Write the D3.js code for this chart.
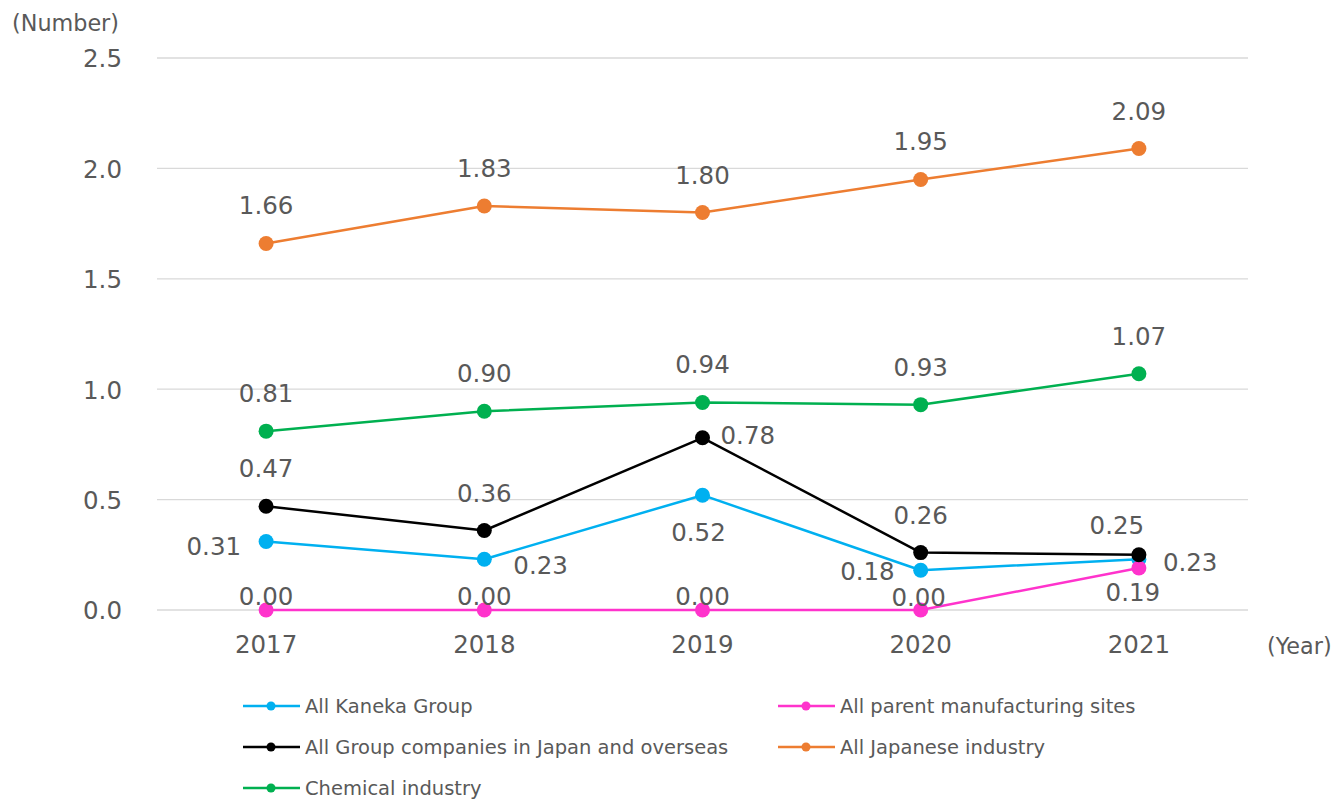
<!DOCTYPE html>
<html>
<head>
<meta charset="utf-8">
<script src="https://cdn.jsdelivr.net/npm/d3@7"></script>
<style>
  html, body { margin: 0; padding: 0; background: #fff; }
  svg { display: block; font-family: "DejaVu Sans", Verdana, sans-serif; }
</style>
</head>
<body>
<svg id="chart" width="1340" height="799"></svg>
<script>
// Lost-time injury frequency rate, 2017–2021
const years = ["2017", "2018", "2019", "2020", "2021"];
const yTicks = [0, 0.5, 1.0, 1.5, 2.0, 2.5];

const kanekaGroup    = [0.31, 0.23, 0.52, 0.18, 0.23];
const parentSites    = [0.00, 0.00, 0.00, 0.00, 0.19];
const groupCompanies = [0.47, 0.36, 0.78, 0.26, 0.25];
const japanIndustry  = [1.66, 1.83, 1.80, 1.95, 2.09];
const chemIndustry   = [0.81, 0.90, 0.94, 0.93, 1.07];

const seriesNames = [
  "All Kaneka Group",
  "All parent manufacturing sites",
  "All Group companies in Japan and overseas",
  "All Japanese industry",
  "Chemical industry"
];
const seriesColors = ["#00b0f0", "#ff33cc", "#000000", "#ed7d31", "#00b050"];

// label placement per point: [dx, dy (baseline), anchor]
const A = [0, -29, "middle"];
const labelPos = [
  [[-25, 13, "end"], [29, 15, "start"], [-4, 46, "middle"], [-26, 10, "end"], [24, 12, "start"]],
  [[0, -5, "middle"], [0, -5, "middle"], [0, -5, "middle"], [-2, -4, "middle"], [-6, 33, "middle"]],
  [A, A, [18, 6, "start"], A, [-22, -21, "middle"]],
  [A, A, A, A, A],
  [A, A, A, A, A]
];

const series = [kanekaGroup, parentSites, groupCompanies, japanIndustry, chemIndustry]
  .map((values, i) => ({ name: seriesNames[i], color: seriesColors[i], values, pos: labelPos[i] }));

const svg = d3.select("#chart");
const plot = { left: 157, right: 1248, top: 58, bottom: 610 };

const x = d3.scaleBand().domain(years).range([plot.left, plot.right]);
const y = d3.scaleLinear().domain([0, 2.5]).range([plot.bottom, plot.top]);
const cx = d => x(d) + x.bandwidth() / 2;

const textColor = "#595959";
const labelSize = 24.5;

// gridlines
svg.append("g")
  .selectAll("line")
  .data(yTicks)
  .join("line")
  .attr("x1", plot.left).attr("x2", plot.right)
  .attr("y1", d => y(d)).attr("y2", d => y(d))
  .attr("stroke", "#d9d9d9").attr("stroke-width", 1.3);

// y axis labels
const yAxis = d3.axisLeft(y).tickValues(yTicks).tickFormat(d3.format(".1f")).tickSize(0).tickPadding(0);
svg.append("g")
  .attr("transform", `translate(122,0)`)
  .call(yAxis)
  .call(g => g.select(".domain").remove())
  .call(g => g.selectAll("text").attr("fill", textColor).attr("font-size", labelSize)
    .attr("font-family", "DejaVu Sans").attr("dy", "0.36em"));

// x axis labels
const xAxis = d3.axisBottom(x).tickSize(0).tickPadding(0);
svg.append("g")
  .attr("transform", `translate(0,636)`)
  .call(xAxis)
  .call(g => g.select(".domain").remove())
  .call(g => g.selectAll("text").attr("fill", textColor).attr("font-size", labelSize)
    .attr("font-family", "DejaVu Sans"));

svg.append("text").attr("x", 12).attr("y", 31).attr("fill", textColor)
  .attr("font-size", 22.3).text("(Number)");
svg.append("text").attr("x", 1267).attr("y", 654).attr("fill", textColor)
  .attr("font-size", 22.3).text("(Year)");

// lines and markers
const line = d3.line().x((d, i) => cx(years[i])).y(d => y(d));

const sg = svg.append("g").selectAll("g").data(series).join("g");
sg.append("path")
  .attr("d", d => line(d.values))
  .attr("fill", "none")
  .attr("stroke", d => d.color)
  .attr("stroke-width", 2.5)
  .attr("stroke-linejoin", "round");
sg.selectAll("circle")
  .data(d => d.values.map((v, i) => ({ v, i, color: d.color })))
  .join("circle")
  .attr("cx", d => cx(years[d.i]))
  .attr("cy", d => y(d.v))
  .attr("r", 7.5)
  .attr("fill", d => d.color);

// data labels
const fmt = d3.format(".2f");
series.forEach(s => {
  svg.append("g").selectAll("text")
    .data(s.values.map((v, i) => ({ v, i, p: s.pos[i] })))
    .join("text")
    .attr("x", d => cx(years[d.i]) + d.p[0])
    .attr("y", d => y(d.v) + d.p[1])
    .attr("text-anchor", d => d.p[2])
    .attr("fill", textColor)
    .attr("font-size", labelSize)
    .text(d => fmt(d.v));
});

// legend
const legendItems = [
  { s: 0, lx: 243, ly: 706 },
  { s: 1, lx: 778, ly: 706 },
  { s: 2, lx: 243, ly: 747 },
  { s: 3, lx: 778, ly: 747 },
  { s: 4, lx: 243, ly: 788 }
];
const lg = svg.append("g").selectAll("g").data(legendItems).join("g")
  .attr("transform", d => `translate(${d.lx},${d.ly})`);
lg.append("line").attr("x1", 0).attr("x2", 57).attr("y1", 0).attr("y2", 0)
  .attr("stroke", d => series[d.s].color).attr("stroke-width", 2.5);
lg.append("circle").attr("cx", 28).attr("cy", 0).attr("r", 4.5)
  .attr("fill", d => series[d.s].color);
lg.append("text").attr("x", 62).attr("y", 7).attr("fill", textColor)
  .attr("font-size", 19.5).text(d => series[d.s].name);
</script>
</body>
</html>
